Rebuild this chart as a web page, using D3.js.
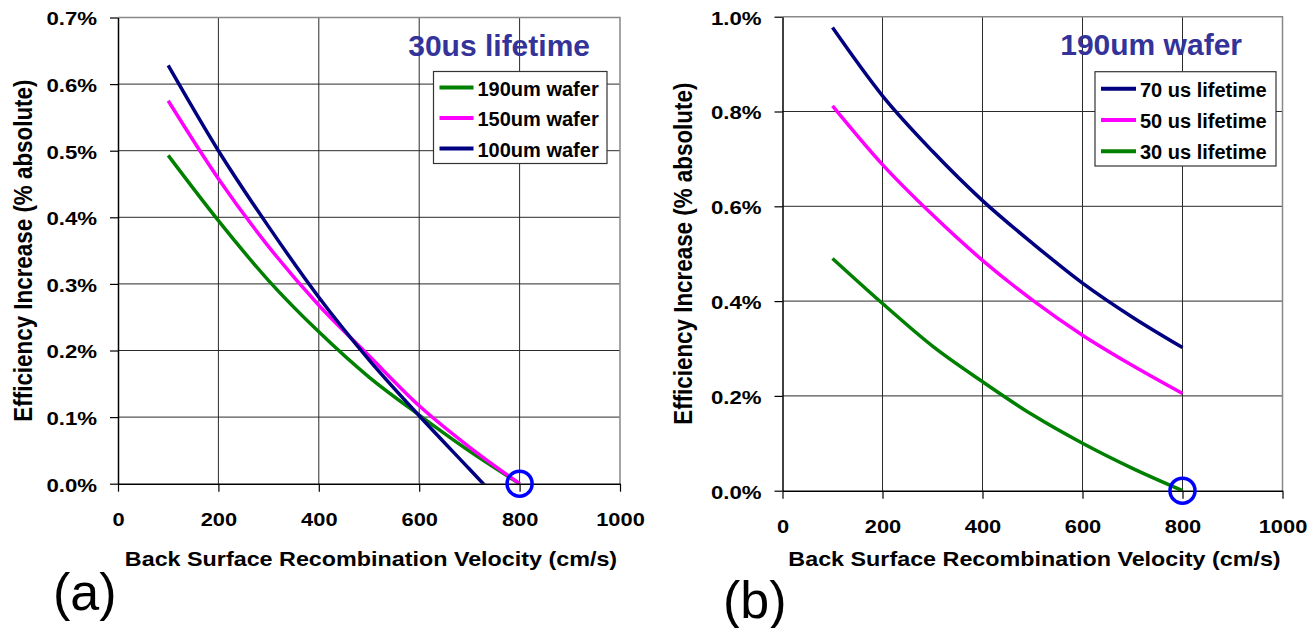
<!DOCTYPE html>
<html>
<head>
<meta charset="utf-8">
<script src="https://cdn.jsdelivr.net/npm/d3@7"></script>
<style>
  body { margin: 0; background: #fff; }
  svg { display: block; font-family: "Liberation Sans", Arial, sans-serif; }
</style>
</head>
<body>
<svg id="chart" width="1315" height="628"></svg>
<script>
/* DATA */
const velocity = [100, 200, 300, 400, 500, 600, 700, 800];

// (a) 30us lifetime, different wafer thickness
const wafer190 = [0.493, 0.395, 0.305, 0.228, 0.160, 0.103, 0.049, 0.000];
const wafer150 = [0.575, 0.458, 0.356, 0.268, 0.192, 0.117, 0.055, 0.000];
const wafer100 = [0.628, 0.500, 0.386, 0.280, 0.186, 0.102, 0.022, -0.058];

// (b) 190um wafer, different lifetime
const life70 = [0.977, 0.833, 0.716, 0.612, 0.522, 0.438, 0.366, 0.302];
const life50 = [0.812, 0.688, 0.582, 0.486, 0.402, 0.328, 0.264, 0.205];
const life30 = [0.490, 0.395, 0.305, 0.230, 0.160, 0.100, 0.047, 0.000];

const xTicks = [0, 200, 400, 600, 800, 1000];
const yTicksA = [0, 0.1, 0.2, 0.3, 0.4, 0.5, 0.6, 0.7];
const yTicksB = [0, 0.2, 0.4, 0.6, 0.8, 1.0];

const namesA = ["190um wafer", "150um wafer", "100um wafer"];
const namesB = ["70 us lifetime", "50 us lifetime", "30 us lifetime"];

const marked = [800, 0]; // blue circle

const GREEN = "#008000", MAGENTA = "#ff00ff", NAVY = "#000080";
const fmt = d => d3.format(".1f")(d) + "%";

const svg = d3.select("#chart");

// widen a text element horizontally (the original picture is stretched)
function stretch(sel, k) {
  sel.each(function() {
    const w = this.getComputedTextLength();
    d3.select(this).attr("textLength", w * k).attr("lengthAdjust", "spacingAndGlyphs");
  });
}

function drawPanel(p) {
  const g = svg.append("g");

  const xScale = d3.scaleLinear().domain([0, 1000]).range([p.left, p.right]);
  const yScale = d3.scaleLinear().domain([0, p.yMax]).range([p.bottom, p.top]);

  // grid
  g.selectAll(".vgrid")
    .data(xTicks.filter(d => d > 0 && d < 1000))
    .join("line")
    .attr("x1", d => xScale(d)).attr("x2", d => xScale(d))
    .attr("y1", p.top).attr("y2", p.bottom)
    .attr("stroke", "#2a2a2a").attr("stroke-width", 1);

  g.selectAll(".hgrid")
    .data(p.yTicks.filter(d => d > 0 && d < p.yMax - 1e-9))
    .join("line")
    .attr("x1", p.left).attr("x2", p.right)
    .attr("y1", d => yScale(d)).attr("y2", d => yScale(d))
    .attr("stroke", "#2a2a2a").attr("stroke-width", 1);

  // top and right border
  g.append("path")
    .attr("d", `M${p.left},${yScale(p.yMax)}H${xScale(1000)}V${p.bottom}`)
    .attr("fill", "none").attr("stroke", "#888").attr("stroke-width", 1.5);

  // clip
  const clipId = "clip-" + p.id;
  svg.append("clipPath").attr("id", clipId)
    .append("rect")
    .attr("x", p.left).attr("y", p.top - 5)
    .attr("width", p.right - p.left).attr("height", p.bottom - p.top + 5);

  const lineGen = d3.line()
    .x((d, i) => xScale(velocity[i]))
    .y(d => yScale(d))
    .curve(d3.curveMonotoneX);

  g.append("g").attr("clip-path", `url(#${clipId})`)
    .selectAll("path")
    .data(p.series)
    .join("path")
    .attr("fill", "none")
    .attr("stroke", d => d.color)
    .attr("stroke-width", 3.5)
    .attr("d", d => lineGen(d.values));

  // axes
  const xAxis = g.append("g")
    .attr("transform", `translate(0, ${p.bottom})`)
    .call(d3.axisBottom(xScale).tickValues(xTicks).tickFormat(d3.format("d"))
      .tickSize(8).tickSizeOuter(0).tickPadding(21));
  const yAxis = g.append("g")
    .attr("transform", `translate(${p.left}, 0)`)
    .call(d3.axisLeft(yScale).tickValues(p.yTicks).tickFormat(fmt).tickSize(8).tickSizeOuter(0).tickPadding(13));

  [xAxis, yAxis].forEach(ax => {
    ax.select(".domain").attr("stroke", "#000").attr("stroke-width", 1.5);
    ax.selectAll(".tick line").attr("stroke", "#000").attr("stroke-width", 1.2);
    ax.selectAll(".tick text")
      .attr("fill", "#000")
      .style("font-family", '"Liberation Sans", Arial, sans-serif')
      .style("font-size", "18.5px")
      .style("font-weight", "bold");
  });
  yAxis.selectAll(".tick text").attr("dy", "0.4em");
  stretch(xAxis.selectAll(".tick text"), 1.18);
  stretch(yAxis.selectAll(".tick text"), 1.2);

  // highlight circle
  g.append("circle")
    .attr("cx", xScale(marked[0])).attr("cy", yScale(marked[1]))
    .attr("r", 12.5)
    .attr("fill", "none").attr("stroke", "#0000ff").attr("stroke-width", 3.5);

  // axis titles
  const xt = g.append("text")
    .attr("x", (p.left + p.right) / 2 + 2).attr("y", 566)
    .attr("text-anchor", "middle")
    .style("font-size", "21px").style("font-weight", "bold")
    .text("Back Surface Recombination Velocity (cm/s)");
  stretch(xt, 1.11);

  g.append("text")
    .attr("transform", `translate(${p.yTitleX}, ${(p.top + p.bottom) / 2}) scale(1.14, 1) rotate(-90)`)
    .attr("text-anchor", "middle")
    .style("font-size", "22.4px").style("font-weight", "bold")
    .text("Efficiency Increase (% absolute)");

  // legend
  const lg = g.append("g");
  lg.append("rect")
    .attr("x", p.legend.x).attr("y", p.legend.y)
    .attr("width", p.legend.w).attr("height", p.legend.h)
    .attr("fill", "#fff").attr("stroke", "#333").attr("stroke-width", 1.2);
  const rows = lg.selectAll(".row")
    .data(p.legendItems)
    .join("g")
    .attr("transform", (d, i) => `translate(${p.legend.x}, ${p.legend.y + p.legend.first + i * p.legend.step})`);
  rows.append("line")
    .attr("x1", 6).attr("x2", p.legend.sample)
    .attr("y1", -8).attr("y2", -8)
    .attr("stroke", d => d.color).attr("stroke-width", 4);
  rows.append("text")
    .attr("x", p.legend.sample + 4)
    .style("font-size", "20px").style("font-weight", "bold")
    .text(d => d.name);

  // panel title
  g.append("text")
    .attr("x", p.title.x).attr("y", p.title.y)
    .attr("text-anchor", "end")
    .attr("fill", "#333399")
    .style("font-size", "30px").style("font-weight", "bold")
    .text(p.title.text);

  // panel letter
  g.append("text")
    .attr("x", p.letter.x).attr("y", p.letter.y)
    .style("font-size", "52px")
    .text(p.letter.text);
}

drawPanel({
  id: "a",
  left: 118, right: 620, top: 17.5, bottom: 483.7,
  yMax: 0.7, yTicks: yTicksA, yTitleX: 32,
  series: [
    { values: wafer190, color: GREEN },
    { values: wafer150, color: MAGENTA },
    { values: wafer100, color: NAVY }
  ],
  legendItems: [
    { name: namesA[0], color: GREEN },
    { name: namesA[1], color: MAGENTA },
    { name: namesA[2], color: NAVY }
  ],
  legend: { x: 433.5, y: 71.5, w: 173.5, h: 92, first: 24, step: 30.5, sample: 40 },
  title: { text: "30us lifetime", x: 590, y: 56 },
  letter: { text: "(a)", x: 53, y: 610 }
});

drawPanel({
  id: "b",
  left: 782.5, right: 1282.5, top: 16.7, bottom: 490.7,
  yMax: 1.0, yTicks: yTicksB, yTitleX: 691.5,
  series: [
    { values: life30, color: GREEN },
    { values: life50, color: MAGENTA },
    { values: life70, color: NAVY }
  ],
  legendItems: [
    { name: namesB[0], color: NAVY },
    { name: namesB[1], color: MAGENTA },
    { name: namesB[2], color: GREEN }
  ],
  legend: { x: 1095, y: 71.7, w: 181, h: 94.3, first: 25, step: 31.3, sample: 41 },
  title: { text: "190um wafer", x: 1242, y: 55 },
  letter: { text: "(b)", x: 723, y: 618 }
});
</script>
</body>
</html>
